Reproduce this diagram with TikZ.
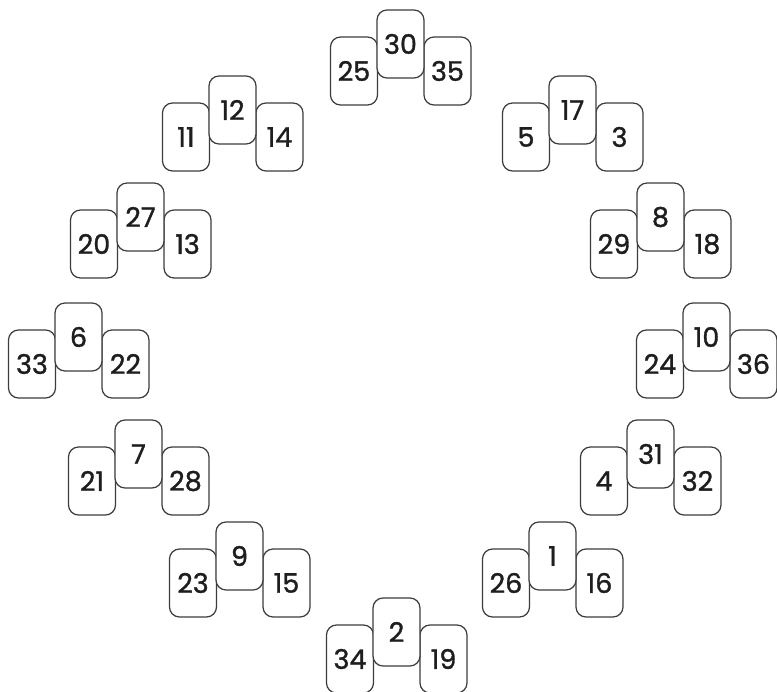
\documentclass[tikz,border=0pt]{standalone}
\usepackage{fontspec}
\setmainfont{Poppins}
\newfontfamily\cardfont{Poppins}[FakeBold=1.2]
\definecolor{cardline}{HTML}{3C3C3C}
\definecolor{cardtext}{HTML}{1E1E1E}
\tikzset{
  card/.style={draw=cardline, line width=1.2pt, fill=white, rounded corners=10pt,
    minimum width=47pt, minimum height=68pt, inner sep=0pt, text=cardtext,
    font=\cardfont\fontsize{27}{27}\selectfont}
}
\newcommand\cardgroup[5]{% mx, my, left, mid, right
  \node[card] (c#3) at ({#1-23},{#2+61}) {#3};
  \node[card] (c#5) at ({#1+70.5},{#2+61}) {#5};
  \node[card] (c#4) at ({#1+23.5},{#2+34}) {#4};
}
\begin{document}
\begin{tikzpicture}[x=1pt,y=-1pt]
\useasboundingbox (0,0) rectangle (777,692);
\cardgroup{377}{10}{25}{30}{35}
\cardgroup{209}{76}{11}{12}{14}
\cardgroup{549}{76}{5}{17}{3}
\cardgroup{117}{183}{20}{27}{13}
\cardgroup{637}{183}{29}{8}{18}
\cardgroup{55}{303}{33}{6}{22}
\cardgroup{683}{303}{24}{10}{36}
\cardgroup{115}{420}{21}{7}{28}
\cardgroup{627}{420}{4}{31}{32}
\cardgroup{216}{522}{23}{9}{15}
\cardgroup{529}{522}{26}{1}{16}
\cardgroup{373}{598}{34}{2}{19}
\end{tikzpicture}
\end{document}
